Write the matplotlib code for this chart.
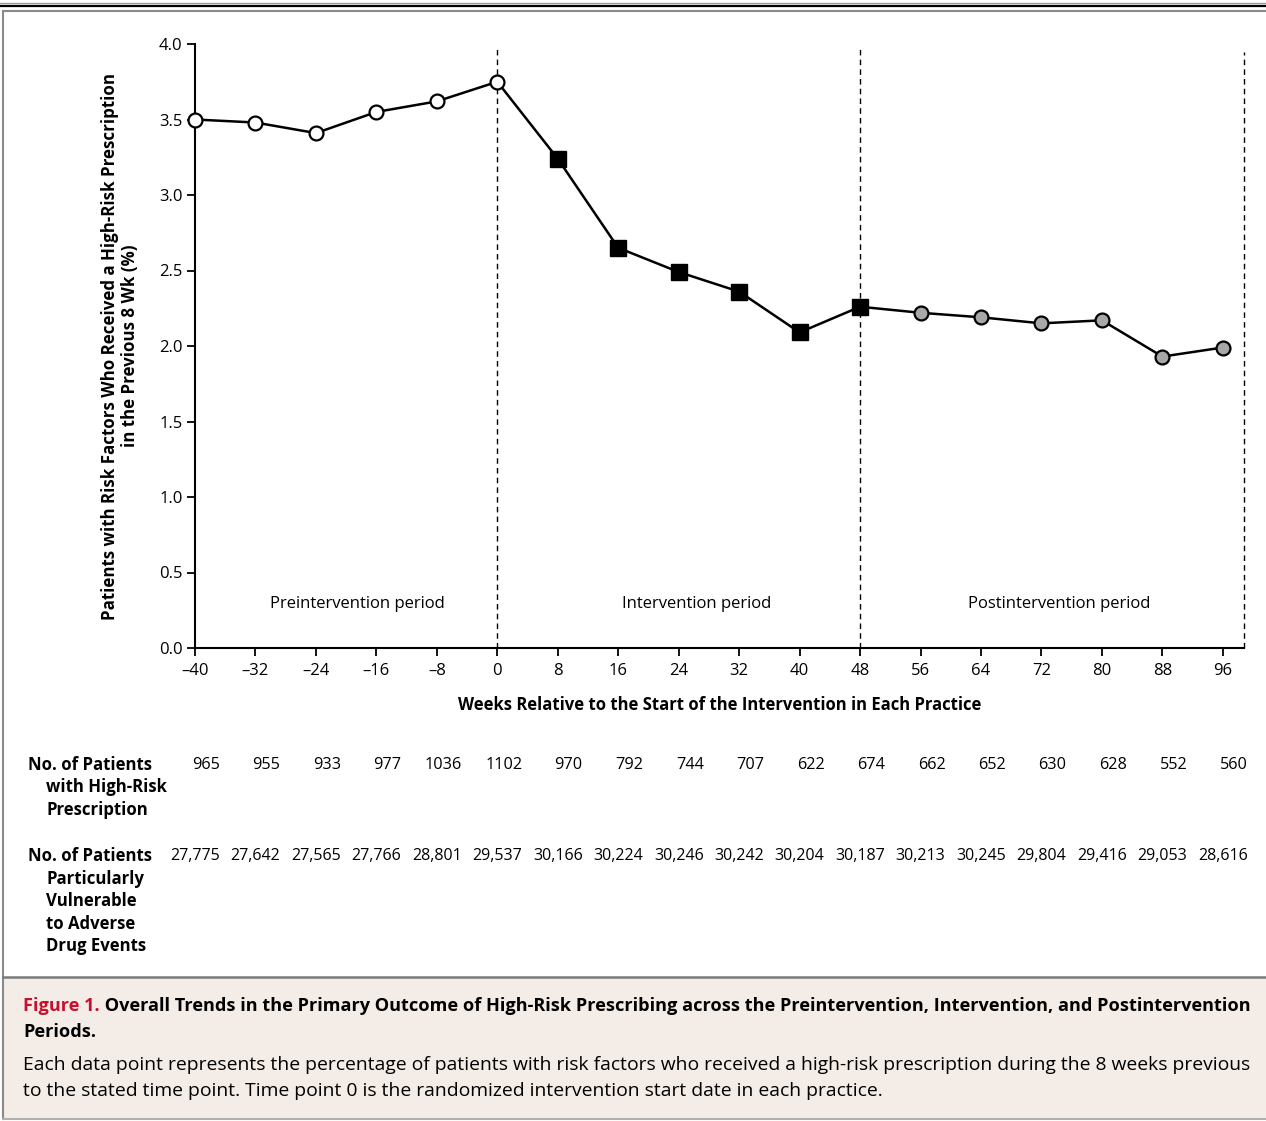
import numpy as np
import matplotlib
matplotlib.use("Agg")
import matplotlib.pyplot as plt
from matplotlib.transforms import blended_transform_factory

plt.rcParams['font.family'] = ['Open Sans', 'DejaVu Sans']

# データ
weeks = [-40, -32, -24, -16, -8, 0, 8, 16, 24, 32, 40, 48, 56, 64, 72, 80, 88, 96]
pct = [3.50, 3.48, 3.41, 3.55, 3.62, 3.75, 3.24, 2.65, 2.49, 2.36, 2.09, 2.26,
       2.22, 2.19, 2.15, 2.17, 1.93, 1.99]
week_labels = ['\u201340', '\u201332', '\u201324', '\u201316', '\u20138', '0', '8', '16', '24',
               '32', '40', '48', '56', '64', '72', '80', '88', '96']
n_high_risk = ['965', '955', '933', '977', '1036', '1102', '970', '792', '744', '707',
               '622', '674', '662', '652', '630', '628', '552', '560']
n_vulnerable = ['27,775', '27,642', '27,565', '27,766', '28,801', '29,537', '30,166',
                '30,224', '30,246', '30,242', '30,204', '30,187', '30,213', '30,245',
                '29,804', '29,416', '29,053', '28,616']
period_names = ['Preintervention period', 'Intervention period', 'Postintervention period']
period_x = [-18.5, 26.4, 74.4]
boundaries = [0, 48, 98.8]

W, H = 1266, 1121
fig = plt.figure(figsize=(W / 100, H / 100), dpi=100)

# 枠と説明文 (ピクセル座標)
bg = fig.add_axes([0, 0, 1, 1], zorder=-1)
bg.axis('off')
bg.set_xlim(0, W)
bg.set_ylim(H, 0)
bg.axhspan(978, 1119, xmin=3 / W, xmax=1, color='#f3ece7', lw=0)
bg.plot([0, W], [3, 3], color='#9a9a9a', lw=1)
bg.plot([0, W], [5.5, 5.5], color='black', lw=1.6)
bg.plot([3, 3], [11, 1119], color='#8a8a8a', lw=1.5)
bg.plot([3, W], [11, 11], color='#8a8a8a', lw=1.5)
bg.plot([3, W], [977, 977], color='#7a7a7a', lw=1.8)
bg.plot([3, W], [1119, 1119], color='#b0b0b0', lw=1.5)

t1 = bg.text(23, 1011, 'Figure 1.', color='#c8102e', fontsize=13.1, fontweight='bold',
             va='baseline')
bg.annotate(' Overall Trends in the Primary Outcome of High-Risk Prescribing across the '
            'Preintervention, Intervention, and Postintervention',
            xy=(1, 0), xycoords=t1, fontsize=13.1, fontweight='bold',
            va='bottom', ha='left')
bg.text(23, 1037, 'Periods.', fontsize=13.1, fontweight='bold', va='baseline')
bg.text(23, 1070, 'Each data point represents the percentage of patients with risk factors '
        'who received a high-risk prescription during the 8 weeks previous',
        fontsize=13.9, va='baseline')
bg.text(23, 1096, 'to the stated time point. Time point 0 is the randomized intervention '
        'start date in each practice.', fontsize=13.9, va='baseline')

# グラフ本体
ax = fig.add_axes([195 / W, (H - 648) / H, (1244 - 195) / W, (648 - 44) / H])
ax.set_xlim(-40, 98.8)
ax.set_ylim(0, 4.0)

ax.plot(weeks, pct, color='black', lw=1.8, zorder=3)
ax.plot(weeks[:6], pct[:6], 'o', ms=10, mfc='white', mec='black', mew=1.6, zorder=4,
        clip_on=False)
ax.plot(weeks[6:12], pct[6:12], 's', ms=11, mfc='black', mec='black', zorder=4)
ax.plot(weeks[12:], pct[12:], 'o', ms=10, mfc='#a8a8a8', mec='black', mew=1.6, zorder=4)

for b, top in zip(boundaries, [3.98, 3.98, 3.95]):
    ax.plot([b, b], [0, top], color='black', lw=1, ls=(0, (4, 3)), zorder=2, clip_on=False)

for name, px in zip(period_names, period_x):
    ax.text(px, 0.29, name, ha='center', va='center', fontsize=12)

ax.spines['top'].set_visible(False)
ax.spines['right'].set_visible(False)
ax.spines['left'].set_linewidth(1.5)
ax.spines['bottom'].set_linewidth(1.5)
ax.set_xticks(weeks)
ax.set_xticklabels(week_labels)
ax.set_yticks(np.arange(0, 4.01, 0.5))
ax.set_yticklabels(['%.1f' % v for v in np.arange(0, 4.01, 0.5)])
ax.tick_params(direction='out', length=6, width=1.3, labelsize=12, pad=3)
ax.tick_params(axis='x', pad=5)

ax.set_xlabel('Weeks Relative to the Start of the Intervention in Each Practice',
              fontsize=12, fontweight='bold', labelpad=12)
ax.set_ylabel('Patients with Risk Factors Who Received a High-Risk Prescription\n'
              'in the Previous 8 Wk (%)', fontsize=12.2, fontweight='bold', labelpad=14,
              linespacing=1.15)

# 表
tr = blended_transform_factory(ax.transData, bg.transData)
for w, a, b in zip(weeks, n_high_risk, n_vulnerable):
    ax.text(w + 3.3, 765, a, transform=tr, ha='right', va='center', fontsize=11.7)
    ax.text(w + 3.3, 856, b, transform=tr, ha='right', va='center', fontsize=11.5)

row1 = ['No. of Patients', 'with High-Risk', 'Prescription']
row2 = ['No. of Patients', 'Particularly', 'Vulnerable', 'to Adverse', 'Drug Events']
for i, s in enumerate(row1):
    bg.text(28 if i == 0 else 46, 765 + i * 22.5, s, fontsize=12.1, fontweight='bold',
            va='center')
for i, s in enumerate(row2):
    bg.text(28 if i == 0 else 46, 856 + i * 22.6, s, fontsize=12.1, fontweight='bold',
            va='center')

fig.savefig('out.png', dpi=100)
